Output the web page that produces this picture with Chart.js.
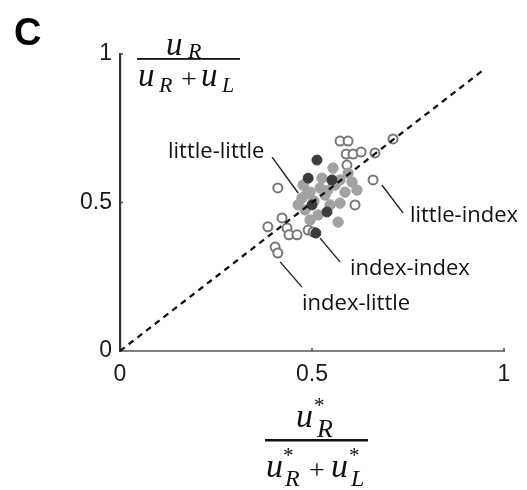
<!DOCTYPE html>
<html>
<head>
<meta charset="utf-8">
<script src="https://cdn.jsdelivr.net/npm/chart.js@4"></script>
<style>
  body { margin: 0; background: #fff; }
  canvas { display: block; }
</style>
</head>
<body>
<canvas id="scatter-chart" width="527" height="490"></canvas>
<script>
// open circles
const openX = [0.573,0.594,0.589,0.607,0.628,0.591,0.664,0.711,0.659,0.612,0.555,0.411,0.422,0.385,0.435,0.440,0.461,0.404,0.411,0.490,0.503]
const openY = [0.707,0.707,0.663,0.663,0.670,0.626,0.667,0.714,0.576,0.492,0.566,0.549,0.448,0.418,0.414,0.391,0.391,0.350,0.330,0.407,0.401]
// grey filled
const grayX = [0.555,0.594,0.604,0.568,0.573,0.477,0.495,0.474,0.521,0.534,0.586,0.547,0.516,0.482,0.495,0.464,0.617,0.560,0.526,0.573,0.505,0.540,0.488]
const grayY = [0.616,0.599,0.569,0.434,0.498,0.559,0.535,0.515,0.549,0.525,0.535,0.492,0.458,0.475,0.441,0.492,0.542,0.559,0.582,0.576,0.505,0.540,0.530]
// dark filled
const darkX = [0.513,0.552,0.490,0.539,0.510,0.500]
const darkY = [0.643,0.576,0.582,0.468,0.397,0.492]
// diagonal
const diagX = [0, 0.95]
const diagY = [0, 0.95]
const tickLabels = {0: "0", 0.5: "0.5", 1: "1"}

// labels with leader lines, in data units
const notes = [
  {text: "little-little", tx: 0.125, ty: 0.650, x1: 0.396, y1: 0.653, x2: 0.464, y2: 0.532},
  {text: "little-index", tx: 0.755, ty: 0.434, x1: 0.682, y1: 0.559, x2: 0.737, y2: 0.465},
  {text: "index-index", tx: 0.599, ty: 0.256, x1: 0.521, y1: 0.380, x2: 0.573, y2: 0.300},
  {text: "index-little", tx: 0.474, ty: 0.138, x1: 0.417, y1: 0.300, x2: 0.474, y2: 0.215}
]

const pts = (xs, ys) => xs.map((x, i) => ({x: x, y: ys[i]}))

const serif = "'Liberation Serif', 'DejaVu Serif', serif"

function glyph(ctx, t, size, x, y) {
  ctx.font = "italic " + size + "px " + serif
  ctx.fillText(t, x, y)
}

function plain(ctx, t, size, x, y) {
  ctx.font = size + "px " + serif
  ctx.fillText(t, x, y)
}

const extras = {
  id: "extras",
  afterDraw(chart) {
    const ctx = chart.ctx
    const sx = chart.scales.x, sy = chart.scales.y
    ctx.save()

    // small inward ticks
    ctx.strokeStyle = "#444"
    ctx.lineWidth = 1.5
    ;[0.5, 1].forEach(v => {
      const px = sx.getPixelForValue(v)
      ctx.beginPath(); ctx.moveTo(px, sy.bottom); ctx.lineTo(px, sy.bottom - 3); ctx.stroke()
      const py = sy.getPixelForValue(v)
      ctx.beginPath(); ctx.moveTo(sx.left, py); ctx.lineTo(sx.left + 3, py); ctx.stroke()
    })

    // annotations
    ctx.strokeStyle = "#222"
    ctx.lineWidth = 1.4
    ctx.fillStyle = "#111"
    ctx.font = "22px 'Open Sans', sans-serif"
    ctx.textAlign = "left"
    ctx.textBaseline = "alphabetic"
    notes.forEach(n => {
      ctx.beginPath()
      ctx.moveTo(sx.getPixelForValue(n.x1), sy.getPixelForValue(n.y1))
      ctx.lineTo(sx.getPixelForValue(n.x2), sy.getPixelForValue(n.y2))
      ctx.stroke()
      ctx.fillText(n.text, sx.getPixelForValue(n.tx), sy.getPixelForValue(n.ty))
    })

    // panel letter
    ctx.fillStyle = "#000"
    ctx.font = "bold 38px 'Liberation Sans', Arial, sans-serif"
    ctx.fillText("C", 14, 45)

    // y label: uR / (uR + uL)
    ctx.fillStyle = "#111"
    glyph(ctx, "u", 33, 166, 55)
    glyph(ctx, "R", 22, 188, 58)
    ctx.fillRect(137, 58, 103, 1.8)
    glyph(ctx, "u", 33, 138, 86)
    glyph(ctx, "R", 22, 159, 92)
    plain(ctx, "+", 28, 181, 88)
    glyph(ctx, "u", 33, 201, 86)
    glyph(ctx, "L", 22, 222, 92)

    // x label: uR* / (uR* + uL*)
    glyph(ctx, "u", 34, 296, 427)
    glyph(ctx, "R", 26, 317, 437)
    plain(ctx, "*", 21, 314, 412)
    ctx.fillRect(265, 439, 103, 2.5)
    glyph(ctx, "u", 34, 266, 477)
    glyph(ctx, "R", 24, 285, 486)
    plain(ctx, "*", 21, 283, 462)
    plain(ctx, "+", 28, 309, 479)
    glyph(ctx, "u", 34, 331, 477)
    glyph(ctx, "L", 24, 351, 486)
    plain(ctx, "*", 21, 349, 462)

    ctx.restore()
  }
}

const tickFont = {family: "'Liberation Sans', Arial, sans-serif", size: 23}

new Chart("scatter-chart", {
  type: "scatter",
  data: {
    datasets: [
      {type: "line", data: pts(diagX, diagY), borderColor: "#111", borderWidth: 2.3, borderDash: [6, 5], pointRadius: 0, fill: false},
      {data: pts(darkX, darkY), backgroundColor: "#3c3c3c", borderColor: "#3c3c3c", borderWidth: 1, pointRadius: 5},
      {data: pts(grayX, grayY), backgroundColor: "#a2a2a2", borderColor: "#a2a2a2", borderWidth: 1, pointRadius: 5.2},
      {data: pts(openX, openY), backgroundColor: "#fff", borderColor: "#777", borderWidth: 2, pointRadius: 4.5}
    ]
  },
  options: {
    responsive: false,
    animation: false,
    layout: {padding: {left: 0, right: 23, top: 54, bottom: 0}},
    plugins: {legend: {display: false}, tooltip: {enabled: false}},
    scales: {
      x: {
        type: "linear", min: 0, max: 1,
        grid: {display: false, drawTicks: false},
        border: {display: true, color: "#808080", width: 2},
        ticks: {stepSize: 0.5, padding: 10, color: "#1a1a1a", font: tickFont, maxRotation: 0,
                callback: v => tickLabels[v]},
        afterFit: s => { s.height = 139 }
      },
      y: {
        type: "linear", min: 0, max: 1,
        grid: {display: false, drawTicks: false},
        border: {display: true, color: "#333", width: 2.2},
        ticks: {stepSize: 0.5, padding: 8, color: "#1a1a1a", font: tickFont,
                callback: v => tickLabels[v]},
        afterFit: s => { s.width = 120 }
      }
    }
  },
  plugins: [extras]
});
</script>
</body>
</html>
